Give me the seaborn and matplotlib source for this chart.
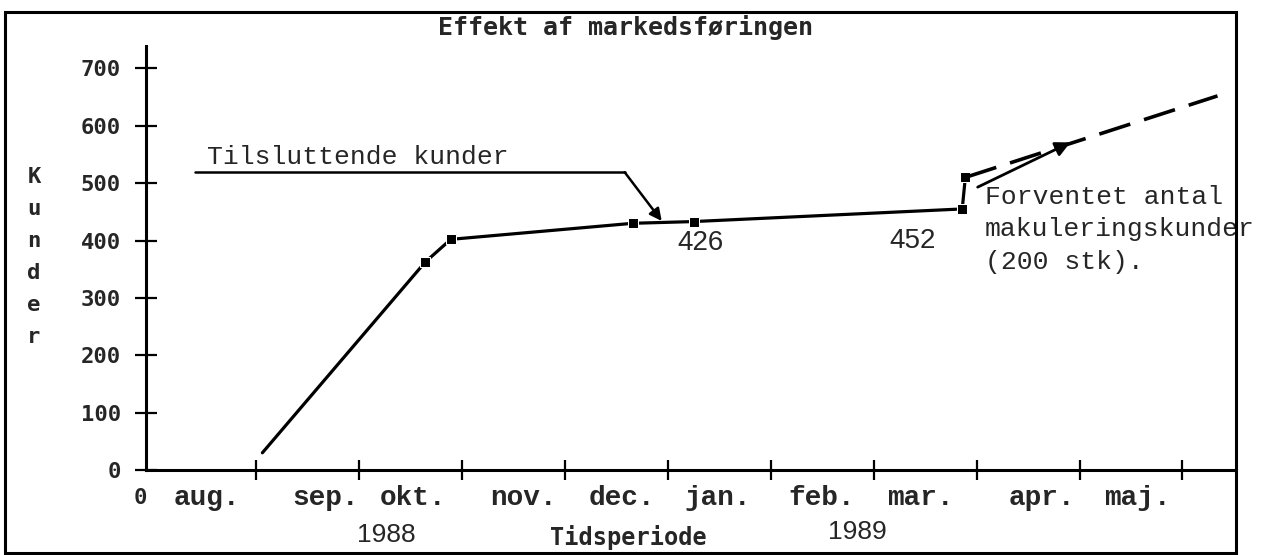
import matplotlib
matplotlib.use("Agg")
import pandas as pd
import matplotlib.pyplot as plt
import seaborn as sns
from matplotlib.patches import Rectangle

# Data: x in month steps (tick 1..10 on the time axis), y = number of customers
months = ["aug.", "sep.", "okt.", "nov.", "dec.", "jan.", "feb.", "mar.", "apr.", "maj."]
month_label_pos = [0.52, 1.67, 2.52, 3.60, 4.55, 5.48, 6.49, 7.45, 8.63, 9.56]
month_ticks = [1, 2, 3, 4, 5, 6, 7, 8, 9, 10]
kunder_x = [1.06, 2.64, 2.89, 4.66, 5.25, 7.86, 7.89]
kunder_y = [30, 362, 402, 430, 433, 455, 510]
forventet_x = [7.89, 10.34]
forventet_y = [510, 652]
y_ticks = [0, 100, 200, 300, 400, 500, 600, 700]

W, H = 1264, 555

def fx(px):
    return px / W

def fy(py):
    return 1 - py / H

sns.set_theme(style="white")
plt.rcParams["font.family"] = ["DejaVu Sans Mono", "DejaVu Sans"]

fig = plt.figure(figsize=(W / 100, H / 100), dpi=100)
ax = fig.add_axes([fx(146), fy(470), fx(1236) - fx(146), fy(46) - fy(470)])

# Actual customers (solid) and expected (dashed)
df = pd.DataFrame({"maaned": kunder_x, "kunder": kunder_y})
sns.lineplot(data=df, x="maaned", y="kunder", ax=ax, color="black", lw=2.3,
             marker="s", markersize=7, markevery=list(range(1, len(kunder_x))),
             sort=False)
sns.lineplot(x=forventet_x, y=forventet_y, ax=ax, color="black", lw=2.6,
             linestyle=(0, (9, 4)), sort=False)

# Axes look
ax.set_xlim(-0.071, 10.52)
ax.set_ylim(0, 739)
ax.set_xlabel("")
ax.set_ylabel("")
for s in ["top", "right"]:
    ax.spines[s].set_visible(False)
for s in ["left", "bottom"]:
    ax.spines[s].set_linewidth(2.2)
    ax.spines[s].set_color("black")

ax.set_xticks(month_ticks)
ax.set_xticklabels([])
ax.set_xticks(month_label_pos, minor=True)
ax.set_xticklabels(months, minor=True, fontfamily="Liberation Mono",
                   fontweight="bold", fontsize=20)
ax.tick_params(axis="x", which="major", direction="inout", length=14,
               width=1.6, color="black", bottom=True)
ax.tick_params(axis="x", which="minor", length=0, pad=11, bottom=True)
ax.set_yticks(y_ticks, labels=[str(v) for v in y_ticks],
              fontweight="bold", fontsize=16)
ax.tick_params(axis="y", direction="inout", length=16, width=1.6,
               color="black", pad=10, left=True)

# Annotations
ax.plot([0.405, 4.58], [519, 519], color="black", lw=1.8)
ax.annotate("", xy=(4.94, 434), xytext=(4.58, 519),
            arrowprops=dict(arrowstyle="-|>", color="black", lw=1.8,
                            mutation_scale=18, shrinkA=0, shrinkB=0))
ax.text(0.52, 545, "Tilsluttende kunder", fontfamily="Liberation Mono",
        fontsize=19, ha="left", va="center")
ax.text(5.32, 396, "426", fontfamily="Liberation Sans", fontsize=20,
        ha="center", va="center")
ax.text(7.38, 400, "452", fontfamily="Liberation Sans", fontsize=20,
        ha="center", va="center")
ax.annotate("", xy=(8.91, 571), xytext=(8.01, 493),
            arrowprops=dict(arrowstyle="-|>", color="black", lw=2,
                            mutation_scale=22, shrinkA=0, shrinkB=0))
ax.text(8.08, 497, "Forventet antal\nmakuleringskunder\n(200 stk).",
        fontfamily="Liberation Mono", fontsize=19, ha="left", va="top",
        linespacing=1.45, clip_on=False)

# Figure texts
fig.text(fx(626), fy(28), "Effekt af markedsføringen", fontsize=18,
         fontweight="bold", ha="center", va="center")
fig.text(fx(34), fy(257), "K\nu\nn\nd\ne\nr", fontsize=16, fontweight="bold",
         ha="center", va="center", linespacing=1.75)
fig.text(fx(140), fy(498), "0", fontsize=16, fontweight="bold",
         ha="center", va="center")
fig.text(fx(628), fy(537), "Tidsperiode", fontsize=17, fontweight="bold",
         ha="center", va="center")
fig.text(fx(386), fy(535), "1988", fontfamily="Liberation Sans", fontsize=19,
         ha="center", va="center")
fig.text(fx(857), fy(532), "1989", fontfamily="Liberation Sans", fontsize=19,
         ha="center", va="center")

# Outer frame
fig.add_artist(Rectangle((fx(5), fy(553)), fx(1236) - fx(5), fy(12) - fy(553),
                         transform=fig.transFigure, fill=False, lw=2.2,
                         ec="black"))

fig.savefig("out.png", dpi=100)
